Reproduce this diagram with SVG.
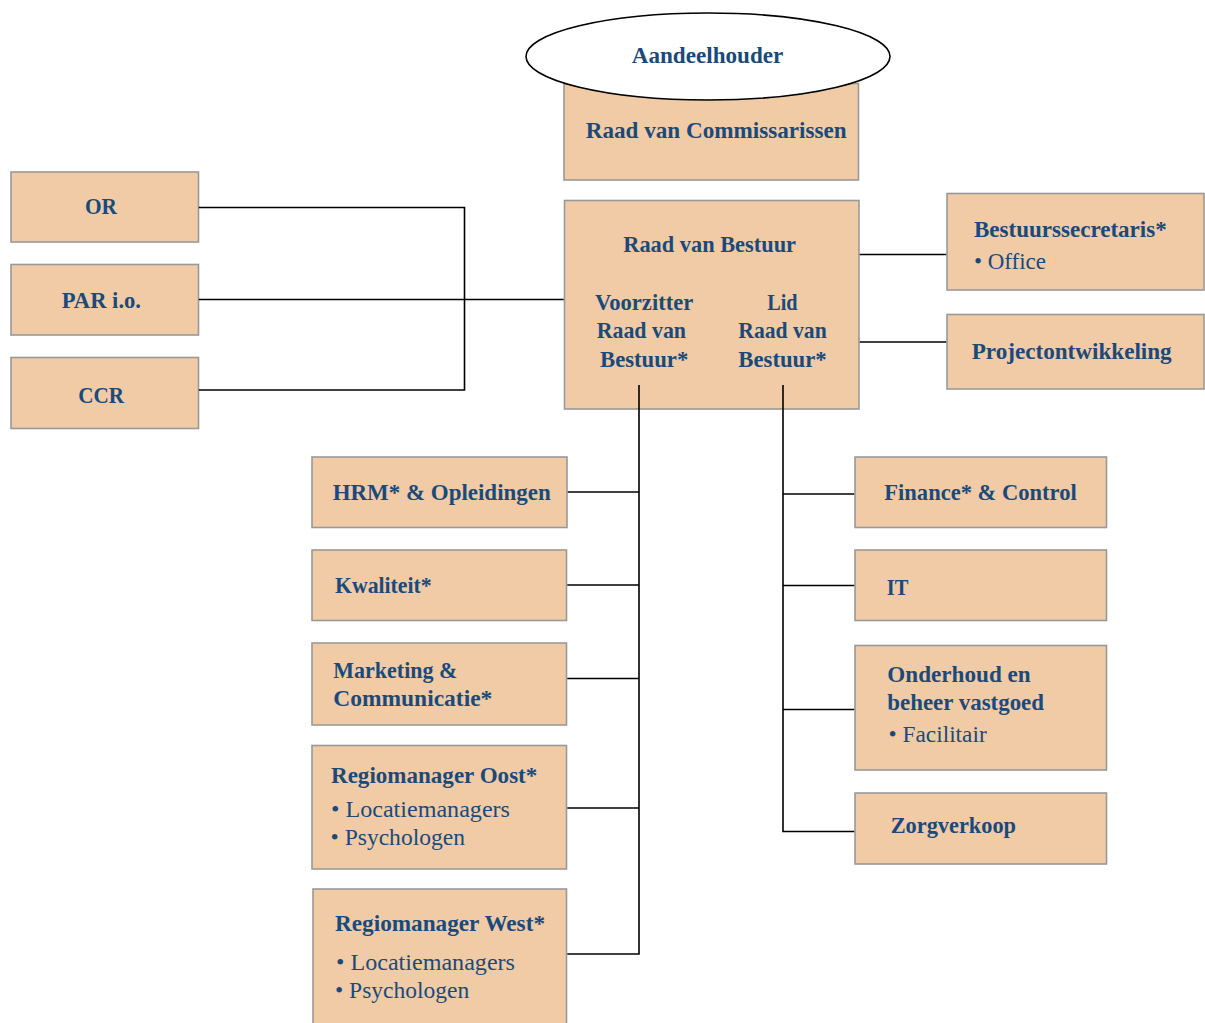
<svg xmlns="http://www.w3.org/2000/svg" width="1205" height="1023" viewBox="0 0 1205 1023">
<style>
.box{fill:#F0CBA5;stroke:#999;stroke-width:1.6}
.b{font-family:"Liberation Serif","Times New Roman",serif;font-weight:bold;font-size:23px;fill:#1A4A7C}
.r{font-family:"Liberation Serif","Times New Roman",serif;font-size:23px;fill:#1A4A7C}
.ln{fill:none;stroke:#000;stroke-width:1.6}
</style>
<rect width="1205" height="1023" fill="#fff"/>
<g id="rvc">
<rect class="box" x="564" y="83.5" width="294.5" height="96.5"/>
<text class="b" x="585.7" y="138" textLength="261" lengthAdjust="spacingAndGlyphs">Raad van Commissarissen</text>
</g>
<g id="aandeelhouder">
<ellipse cx="708" cy="56.5" rx="182" ry="43.5" fill="#fff" stroke="#000" stroke-width="1.6"/>
<text class="b" x="631.7" y="62.7" textLength="151.7" lengthAdjust="spacingAndGlyphs">Aandeelhouder</text>
</g>
<g id="rvb">
<rect class="box" x="564.5" y="200.5" width="294.5" height="208.5"/>
<text class="b" x="623.3" y="252" textLength="172.7" lengthAdjust="spacingAndGlyphs">Raad van Bestuur</text>
<text class="b" x="595" y="309.5" textLength="98.3" lengthAdjust="spacingAndGlyphs">Voorzitter</text>
<text class="b" x="596.7" y="338" textLength="89.3" lengthAdjust="spacingAndGlyphs">Raad van</text>
<text class="b" x="600" y="366.5" textLength="88.3" lengthAdjust="spacingAndGlyphs">Bestuur*</text>
<text class="b" x="767.3" y="309.5" textLength="30.3" lengthAdjust="spacingAndGlyphs">Lid</text>
<text class="b" x="738.3" y="338" textLength="88.4" lengthAdjust="spacingAndGlyphs">Raad van</text>
<text class="b" x="738.3" y="366.5" textLength="88.4" lengthAdjust="spacingAndGlyphs">Bestuur*</text>
</g>
<g id="or">
<rect class="box" x="11" y="172" width="187.5" height="70"/>
<text class="b" x="85" y="214" textLength="32" lengthAdjust="spacingAndGlyphs">OR</text>
</g>
<g id="par">
<rect class="box" x="11" y="264.5" width="187.5" height="70.5"/>
<text class="b" x="61.7" y="308" textLength="79.3" lengthAdjust="spacingAndGlyphs">PAR i.o.</text>
</g>
<g id="ccr">
<rect class="box" x="11" y="357.5" width="187.5" height="71"/>
<text class="b" x="78.3" y="403" textLength="45.7" lengthAdjust="spacingAndGlyphs">CCR</text>
</g>
<g id="bestuurssecretaris">
<rect class="box" x="947" y="193.5" width="257" height="96.5"/>
<text class="b" x="974" y="237" textLength="192.7" lengthAdjust="spacingAndGlyphs">Bestuurssecretaris*</text>
<text class="r" x="974" y="268.5" textLength="72" lengthAdjust="spacingAndGlyphs">• Office</text>
</g>
<g id="projectontwikkeling">
<rect class="box" x="947" y="314.5" width="257" height="74.5"/>
<text class="b" x="971.7" y="359" textLength="200" lengthAdjust="spacingAndGlyphs">Projectontwikkeling</text>
</g>
<g id="hrm">
<rect class="box" x="312" y="457" width="255" height="70.5"/>
<text class="b" x="332.7" y="500" textLength="218" lengthAdjust="spacingAndGlyphs">HRM* &amp; Opleidingen</text>
</g>
<g id="kwaliteit">
<rect class="box" x="312" y="550" width="254.5" height="70.5"/>
<text class="b" x="335" y="593.3" textLength="96.7" lengthAdjust="spacingAndGlyphs">Kwaliteit*</text>
</g>
<g id="marketing">
<rect class="box" x="312" y="643" width="254.5" height="82"/>
<text class="b" x="333.3" y="677.7" textLength="124" lengthAdjust="spacingAndGlyphs">Marketing &amp;</text>
<text class="b" x="333.3" y="705.7" textLength="159" lengthAdjust="spacingAndGlyphs">Communicatie*</text>
</g>
<g id="oost">
<rect class="box" x="312" y="745.5" width="254.5" height="123.5"/>
<text class="b" x="331" y="782.7" textLength="206.3" lengthAdjust="spacingAndGlyphs">Regiomanager Oost*</text>
<text class="r" x="331" y="816.7" textLength="179" lengthAdjust="spacingAndGlyphs">• Locatiemanagers</text>
<text class="r" x="330.5" y="845" textLength="134.5" lengthAdjust="spacingAndGlyphs">• Psychologen</text>
</g>
<g id="west">
<rect class="box" x="313" y="889" width="253.5" height="145"/>
<text class="b" x="335" y="930.7" textLength="210" lengthAdjust="spacingAndGlyphs">Regiomanager West*</text>
<text class="r" x="336" y="970" textLength="179" lengthAdjust="spacingAndGlyphs">• Locatiemanagers</text>
<text class="r" x="335" y="997.7" textLength="134.3" lengthAdjust="spacingAndGlyphs">• Psychologen</text>
</g>
<g id="finance">
<rect class="box" x="855" y="457" width="251.5" height="70.5"/>
<text class="b" x="884.3" y="500" textLength="192.4" lengthAdjust="spacingAndGlyphs">Finance* &amp; Control</text>
</g>
<g id="it">
<rect class="box" x="855" y="550" width="251.5" height="70.5"/>
<text class="b" x="886.7" y="595" textLength="21.6" lengthAdjust="spacingAndGlyphs">IT</text>
</g>
<g id="onderhoud">
<rect class="box" x="855" y="645.5" width="251.5" height="124.5"/>
<text class="b" x="887.3" y="681.7" textLength="143.4" lengthAdjust="spacingAndGlyphs">Onderhoud en</text>
<text class="b" x="887.3" y="710" textLength="156.7" lengthAdjust="spacingAndGlyphs">beheer vastgoed</text>
<text class="r" x="888.5" y="741.7" textLength="98.2" lengthAdjust="spacingAndGlyphs">• Facilitair</text>
</g>
<g id="zorgverkoop">
<rect class="box" x="855" y="793" width="251.5" height="71"/>
<text class="b" x="890.7" y="833.3" textLength="125.3" lengthAdjust="spacingAndGlyphs">Zorgverkoop</text>
</g>
<g id="connectors">
<polyline class="ln" points="198.8,207.5 464.5,207.5 464.5,390 198.8,390"/>
<line class="ln" x1="198.8" y1="299.5" x2="563.7" y2="299.5"/>
<line class="ln" x1="859.8" y1="254.5" x2="946.2" y2="254.5"/>
<line class="ln" x1="859.8" y1="342" x2="946.2" y2="342"/>
<polyline class="ln" points="639,385 639,954 567.3,954"/>
<line class="ln" x1="567.8" y1="492" x2="639" y2="492"/>
<line class="ln" x1="567.3" y1="585" x2="639" y2="585"/>
<line class="ln" x1="567.3" y1="678.5" x2="639" y2="678.5"/>
<line class="ln" x1="567.3" y1="808" x2="639" y2="808"/>
<polyline class="ln" points="783,385 783,831.5 854.2,831.5"/>
<line class="ln" x1="783" y1="494" x2="854.2" y2="494"/>
<line class="ln" x1="783" y1="585.5" x2="854.2" y2="585.5"/>
<line class="ln" x1="783" y1="709.5" x2="854.2" y2="709.5"/>
</g>
</svg>
